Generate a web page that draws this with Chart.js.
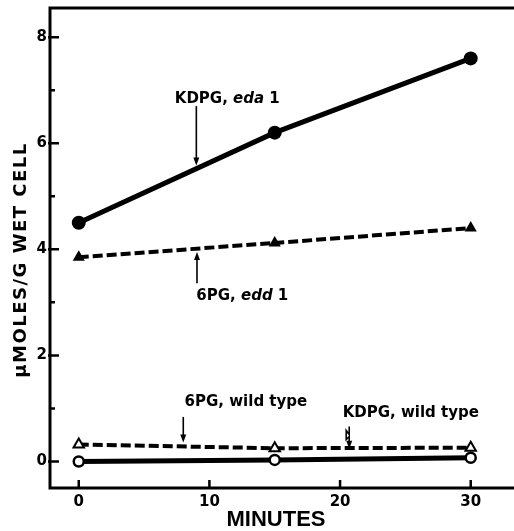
<!DOCTYPE html>
<html>
<head>
<meta charset="utf-8">
<script src="https://cdn.jsdelivr.net/npm/chart.js@4"></script>
<style>
  html, body { margin: 0; padding: 0; background: #fff; }
  #wrap { width: 514px; height: 531px; }
</style>
</head>
<body>
<div id="wrap"><canvas id="chart" width="514" height="531"></canvas></div>
<script>
// Data
const minutes = [0, 15, 30];
const kdpgEda = [4.5, 6.2, 7.6];
const pgEdd = [3.85, 4.12, 4.4];
const pgWild = [0.32, 0.25, 0.26];
const kdpgWild = [0, 0.03, 0.07];

const xTicks = [0, 10, 20, 30];
const yTicks = [0, 2, 4, 6, 8];
const yMinor = [1, 3, 5, 7];

// Labels with arrows, in data units: text anchor (left, middle) and arrow from -> to
const labelParts = [
  [{ t: 'KDPG, ', i: false }, { t: 'eda', i: true }, { t: ' 1', i: false }],
  [{ t: '6PG, ', i: false }, { t: 'edd', i: true }, { t: ' 1', i: false }],
  [{ t: '6PG, wild type', i: false }],
  [{ t: 'KDPG, wild type', i: false }],
];
const labelAt = [[7.35, 6.83], [9.0, 3.11], [8.1, 1.12], [20.2, 0.92]];
const arrowFrom = [[9.0, 6.7], [9.05, 3.36], [8.0, 0.84], [20.7, 0.66]];
const arrowTo = [[9.0, 5.58], [9.05, 3.95], [8.0, 0.36], [20.7, 0.24]];
const arrowZig = [false, false, false, true];

const FONT = '"DejaVu Sans", sans-serif';

function arrowHead(ctx, x, y, dir) {
  ctx.beginPath();
  ctx.moveTo(x, y);
  ctx.lineTo(x - 3, y - dir * 8);
  ctx.lineTo(x + 3, y - dir * 8);
  ctx.closePath();
  ctx.fill();
}

const framePlugin = {
  id: 'frame',
  afterDatasetsDraw(chart) {
    const { ctx, chartArea: a, scales: { x, y } } = chart;
    ctx.save();
    ctx.strokeStyle = '#000';
    ctx.fillStyle = '#000';

    // axes box: left, top, bottom
    ctx.lineWidth = 3;
    ctx.beginPath();
    ctx.moveTo(chart.width, a.top);
    ctx.lineTo(a.left, a.top);
    ctx.lineTo(a.left, a.bottom);
    ctx.lineTo(chart.width, a.bottom);
    ctx.stroke();

    // ticks pointing inward
    ctx.lineWidth = 2.5;
    ctx.beginPath();
    yTicks.forEach(v => {
      const p = y.getPixelForValue(v);
      ctx.moveTo(a.left - 2, p);
      ctx.lineTo(a.left + 9, p);
    });
    yMinor.forEach(v => {
      const p = y.getPixelForValue(v);
      ctx.moveTo(a.left, p);
      ctx.lineTo(a.left + 5, p);
    });
    xTicks.forEach(v => {
      const p = x.getPixelForValue(v);
      ctx.moveTo(p, a.bottom);
      ctx.lineTo(p, a.bottom - 8);
    });
    ctx.stroke();

    // labels
    ctx.textBaseline = 'middle';
    ctx.textAlign = 'left';
    labelParts.forEach((parts, k) => {
      let px = x.getPixelForValue(labelAt[k][0]);
      const py = y.getPixelForValue(labelAt[k][1]);
      parts.forEach(p => {
        ctx.font = (p.i ? 'italic ' : '') + 'bold 15px ' + FONT;
        ctx.fillText(p.t, px, py);
        px += ctx.measureText(p.t).width;
      });
    });

    // arrows
    ctx.lineWidth = 1.6;
    labelParts.forEach((_, k) => {
      const x1 = x.getPixelForValue(arrowFrom[k][0]);
      const y1 = y.getPixelForValue(arrowFrom[k][1]);
      const x2 = x.getPixelForValue(arrowTo[k][0]);
      const y2 = y.getPixelForValue(arrowTo[k][1]);
      const dir = y2 > y1 ? 1 : -1;
      ctx.beginPath();
      ctx.moveTo(x1, y1);
      if (arrowZig[k]) {
        ctx.lineTo(x1, y1 + 8);
        ctx.lineTo(x1 - 3, y1 + 4);
        ctx.lineTo(x1 - 3, y1 + 13);
        ctx.lineTo(x1, y1 + 10);
        ctx.lineTo(x2, y2 - dir * 6);
      } else {
        ctx.lineTo(x2, y2 - dir * 6);
      }
      ctx.stroke();
      arrowHead(ctx, x2, y2, dir);
    });

    // axis titles
    ctx.textAlign = 'center';
    ctx.font = 'bold 22px "Liberation Sans", Arial, sans-serif';
    ctx.fillText('MINUTES', x.getPixelForValue(15.1), 520);
    ctx.translate(21, y.getPixelForValue(3.8));
    ctx.rotate(-Math.PI / 2);
    ctx.font = 'bold 18px ' + FONT;
    ctx.letterSpacing = '1.5px';
    ctx.fillText('\u03bcMOLES/G WET CELL', 0, 0);
    ctx.restore();
  }
};

new Chart(document.getElementById('chart'), {
  type: 'line',
  data: {
    datasets: [
      {
        label: 'KDPG, eda 1',
        data: minutes.map((m, i) => ({ x: m, y: kdpgEda[i] })),
        borderColor: '#000', backgroundColor: '#000',
        borderWidth: 5, pointStyle: 'circle', pointRadius: 7,
        pointBorderWidth: 0,
      },
      {
        label: '6PG, edd 1',
        data: minutes.map((m, i) => ({ x: m, y: pgEdd[i] })),
        borderColor: '#000', backgroundColor: '#000',
        borderWidth: 4, borderDash: [10, 4], pointStyle: 'triangle', pointRadius: 7,
        pointBorderWidth: 0,
      },
      {
        label: '6PG, wild type',
        data: minutes.map((m, i) => ({ x: m, y: pgWild[i] })),
        borderColor: '#000', backgroundColor: '#fff',
        borderWidth: 4, borderDash: [10, 4], pointStyle: 'triangle', pointRadius: 6,
        pointBorderWidth: 2, pointBorderColor: '#000',
      },
      {
        label: 'KDPG, wild type',
        data: minutes.map((m, i) => ({ x: m, y: kdpgWild[i] })),
        borderColor: '#000', backgroundColor: '#fff',
        borderWidth: 5, pointStyle: 'circle', pointRadius: 5,
        pointBorderWidth: 2.5, pointBorderColor: '#000',
      },
    ],
  },
  options: {
    responsive: false,
    animation: false,
    layout: { padding: { top: 6, left: 0, right: 0, bottom: 0 } },
    plugins: { legend: { display: false }, tooltip: { enabled: false } },
    scales: {
      x: {
        type: 'linear',
        min: -2.2, max: 32.7,
        grid: { display: false, drawTicks: false },
        border: { display: false },
        afterBuildTicks: s => { s.ticks = xTicks.map(v => ({ value: v })); },
        afterFit: s => { s.height = 43; s.paddingLeft = 0; s.paddingRight = 0; },
        ticks: { color: '#000', padding: 5, font: { family: FONT, weight: 'bold', size: 15 } },
      },
      y: {
        type: 'linear',
        min: -0.5, max: 8.55,
        grid: { display: false, drawTicks: false },
        border: { display: false },
        afterBuildTicks: s => { s.ticks = yTicks.map(v => ({ value: v })); },
        afterFit: s => { s.width = 50; s.paddingTop = 0; s.paddingBottom = 0; },
        ticks: { color: '#000', padding: 3, font: { family: FONT, weight: 'bold', size: 15 } },
      },
    },
  },
  plugins: [framePlugin],
});
</script>
</body>
</html>
